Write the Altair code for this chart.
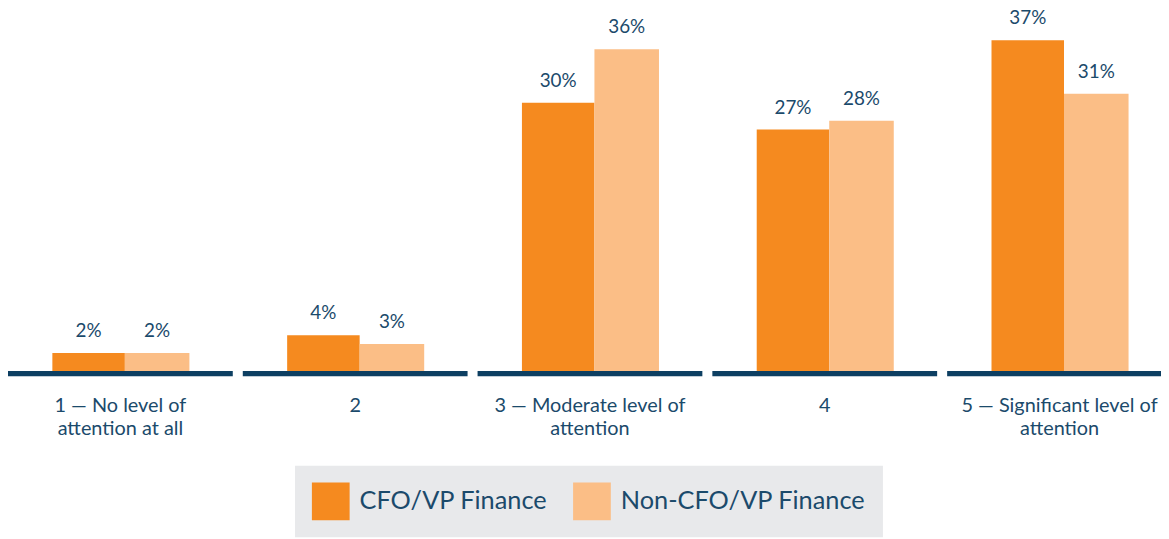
import altair as alt
import pandas as pd

categories = [
    "1 — No level of\nattention at all",
    "2",
    "3 — Moderate level of\nattention",
    "4",
    "5 — Significant level of\nattention",
]
series = ["CFO/VP Finance", "Non-CFO/VP Finance"]
cfo_values = [2, 4, 30, 27, 37]
non_cfo_values = [2, 3, 36, 28, 31]

colors = ["#f58a1f", "#fbbe86"]
navy = "#1b4a6b"
line_color = "#0d3f62"

rows = []
for c, v in zip(categories, cfo_values):
    rows.append({"category": c, "series": series[0], "value": v, "label": f"{v}%"})
for c, v in zip(categories, non_cfo_values):
    rows.append({"category": c, "series": series[1], "value": v, "label": f"{v}%"})
df = pd.DataFrame(rows)
base_df = pd.DataFrame({"category": categories})

x_enc = alt.X(
    "category:N",
    sort=categories,
    scale=alt.Scale(paddingInner=0.0426, paddingOuter=0, range=[0, 1172]),
    axis=alt.Axis(
        title=None,
        labelAngle=0,
        domain=False,
        ticks=False,
        labelExpr="split(datum.label, '\\n')",
        labelFont="Lato",
        labelFontSize=20,
        labelLineHeight=24,
        labelColor=navy,
        labelPadding=19,
        labelBaseline="top",
        labelLimit=400,
    ),
)
y_scale = alt.Scale(domain=[-0.6, 40.07], nice=False, zero=False)
y_enc = alt.Y("value:Q", scale=y_scale, axis=None)
color_enc = alt.Color(
    "series:N",
    scale=alt.Scale(domain=series, range=colors),
    legend=alt.Legend(
        title=None,
        orient="none",
        legendX=289,
        legendY=456,
        direction="horizontal",
        fillColor="#e8e9eb",
        padding=17,
        symbolType="square",
        symbolSize=1444,
        symbolStrokeWidth=0,
        symbolOpacity=1,
        labelFont="Lato",
        labelFontSize=25.5,
        labelColor=navy,
        labelOffset=10,
        labelLimit=400,
        columnPadding=25,
    ),
)

base = alt.Chart(df)

bars_cfo = base.transform_filter(alt.datum.series == series[0]).mark_bar(
    width=73, xOffset=-32
).encode(x=x_enc, y=y_enc, color=color_enc)
bars_non = base.transform_filter(alt.datum.series == series[1]).mark_bar(
    width=65, xOffset=37
).encode(x=x_enc, y=y_enc, color=color_enc)

text_style = dict(font="Lato", fontSize=19, color=navy, baseline="alphabetic", dy=-16)
text_cfo = base.transform_filter(alt.datum.series == series[0]).mark_text(
    xOffset=-32, **text_style
).encode(x=x_enc, y=y_enc, text="label:N")
text_non = base.transform_filter(alt.datum.series == series[1]).mark_text(
    xOffset=37, **text_style
).encode(x=x_enc, y=y_enc, text="label:N")

baseline = alt.Chart(base_df).transform_calculate(
    top="0", bottom="-0.6"
).mark_bar(color=line_color).encode(
    x=x_enc,
    y=alt.Y("top:Q", scale=y_scale, axis=None),
    y2="bottom:Q",
)

chart = alt.layer(baseline, bars_cfo, bars_non, text_cfo, text_non).properties(
    width=1161,
    height=366,
    autosize=alt.AutoSizeParams(type="none"),
    padding={"left": 0, "top": 3, "right": 0, "bottom": 161},
).configure_view(stroke=None)

chart.save("out.html", embed_options={"renderer": "svg", "actions": False})
